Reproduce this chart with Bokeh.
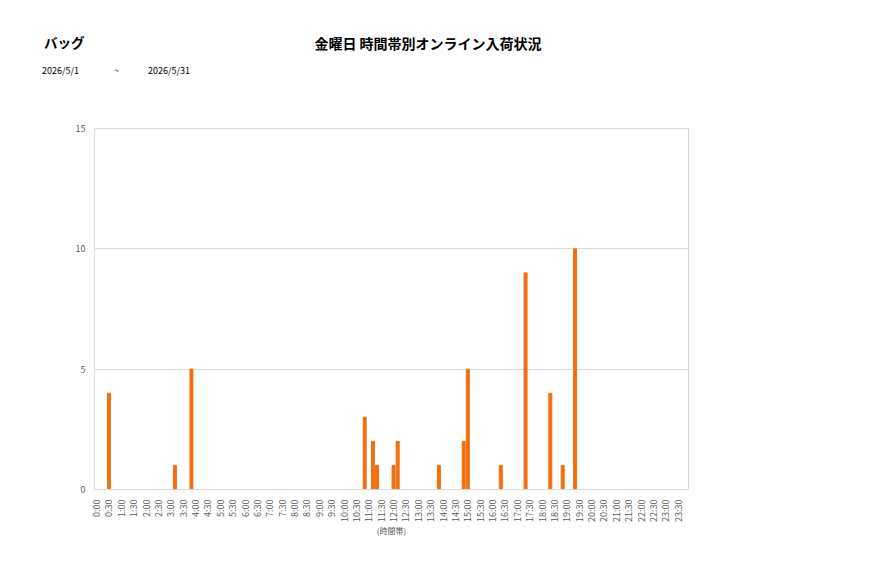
import math
from bokeh.plotting import figure
from bokeh.layouts import column
from bokeh.models import FixedTicker, ColumnDataSource, Range1d, Div
from bokeh.embed import file_html
from bokeh.resources import INLINE

# 10-minute slots
slots = [f"{h}:{m:02d}" for h in range(24) for m in (0, 10, 20, 30, 40, 50)]
bar_times = ["0:30", "3:10", "3:50", "10:50", "11:10", "11:20", "12:00", "12:10",
             "13:50", "14:50", "15:00", "16:20", "17:20", "18:20", "18:50", "19:20"]
bar_counts = [4, 1, 5, 3, 2, 1, 1, 2, 1, 2, 5, 1, 9, 4, 1, 10]
y_ticks = [0, 5, 10, 15]

category = "バッグ"
title = "金曜日 時間帯別オンライン入荷状況"
date_from = "2026/5/1"
date_to = "2026/5/31"

FONT = "Noto Sans CJK JP"
W = 877
HEAD = 100

def span(x, y, t, size, bold=False, center=False):
    tr = "translate(-50%,-50%)" if center else "translate(0,-50%)"
    return (f'<span style="position:absolute;left:{x}px;top:{y}px;transform:{tr};'
            f'white-space:nowrap;line-height:1;font-family:\'{FONT}\';font-size:{size}px;'
            f'font-weight:{"bold" if bold else "normal"};color:#000">{t}</span>')

html = (f'<div style="position:relative;width:{W}px;height:{HEAD}px;margin:0;padding:0">'
        + span(44, 43, category, 13.5, bold=True)
        + span(428, 43, title, 14, bold=True, center=True)
        + span(42, 70, date_from, 9)
        + span(114, 70, "~", 9)
        + span(148, 70, date_to, 9)
        + '</div>')
head = Div(text=html, width=W, height=HEAD, margin=0)

# ---- chart ----
xs = [slots.index(t) + 0.5 for t in bar_times]
src = ColumnDataSource(dict(x=xs, top=bar_counts))

p = figure(width=W, height=578 - HEAD, output_backend="svg", toolbar_location=None,
           x_range=Range1d(0, len(slots)), y_range=Range1d(0, 15),
           min_border_left=94, min_border_right=189, min_border_top=128 - HEAD,
           min_border_bottom=89, margin=0)
p.vbar(x="x", top="top", width=0.72, bottom=0, source=src, color="#f26f10")

p.outline_line_color = "#d9d9d9"
p.xgrid.grid_line_color = None
p.ygrid.grid_line_color = "#d9d9d9"
p.ygrid.ticker = FixedTicker(ticks=y_ticks)

tick_pos = [i + 0.5 for i in range(0, len(slots), 3)]
p.xaxis.ticker = FixedTicker(ticks=tick_pos)
p.xaxis.major_label_overrides = {i + 0.5: slots[i] for i in range(0, len(slots), 3)}
p.xaxis.major_label_orientation = math.pi / 2
p.xaxis.major_tick_line_color = None
p.xaxis.minor_tick_line_color = None
p.xaxis.axis_line_color = "#d9d9d9"
p.xaxis.major_label_text_font = FONT
p.xaxis.major_label_text_font_size = "9px"
p.xaxis.major_label_text_color = "#595959"
p.xaxis.major_label_standoff = 4

p.yaxis.ticker = FixedTicker(ticks=y_ticks)
p.yaxis.major_tick_line_color = None
p.yaxis.minor_tick_line_color = None
p.yaxis.major_tick_out = 0
p.yaxis.minor_tick_out = 0
p.yaxis.axis_line_color = "#d9d9d9"
p.yaxis.major_label_text_font = FONT
p.yaxis.major_label_text_font_size = "9px"
p.yaxis.major_label_text_color = "#595959"
p.yaxis.major_label_standoff = 9

p.xaxis.axis_label = "(時間帯)"
p.xaxis.axis_label_text_font = FONT
p.xaxis.axis_label_text_font_size = "8px"
p.xaxis.axis_label_text_font_style = "normal"
p.xaxis.axis_label_text_color = "#595959"
p.xaxis.axis_label_standoff = 0

layout = column(head, p, spacing=0)
open("out.html", "w").write(file_html(layout, INLINE))
